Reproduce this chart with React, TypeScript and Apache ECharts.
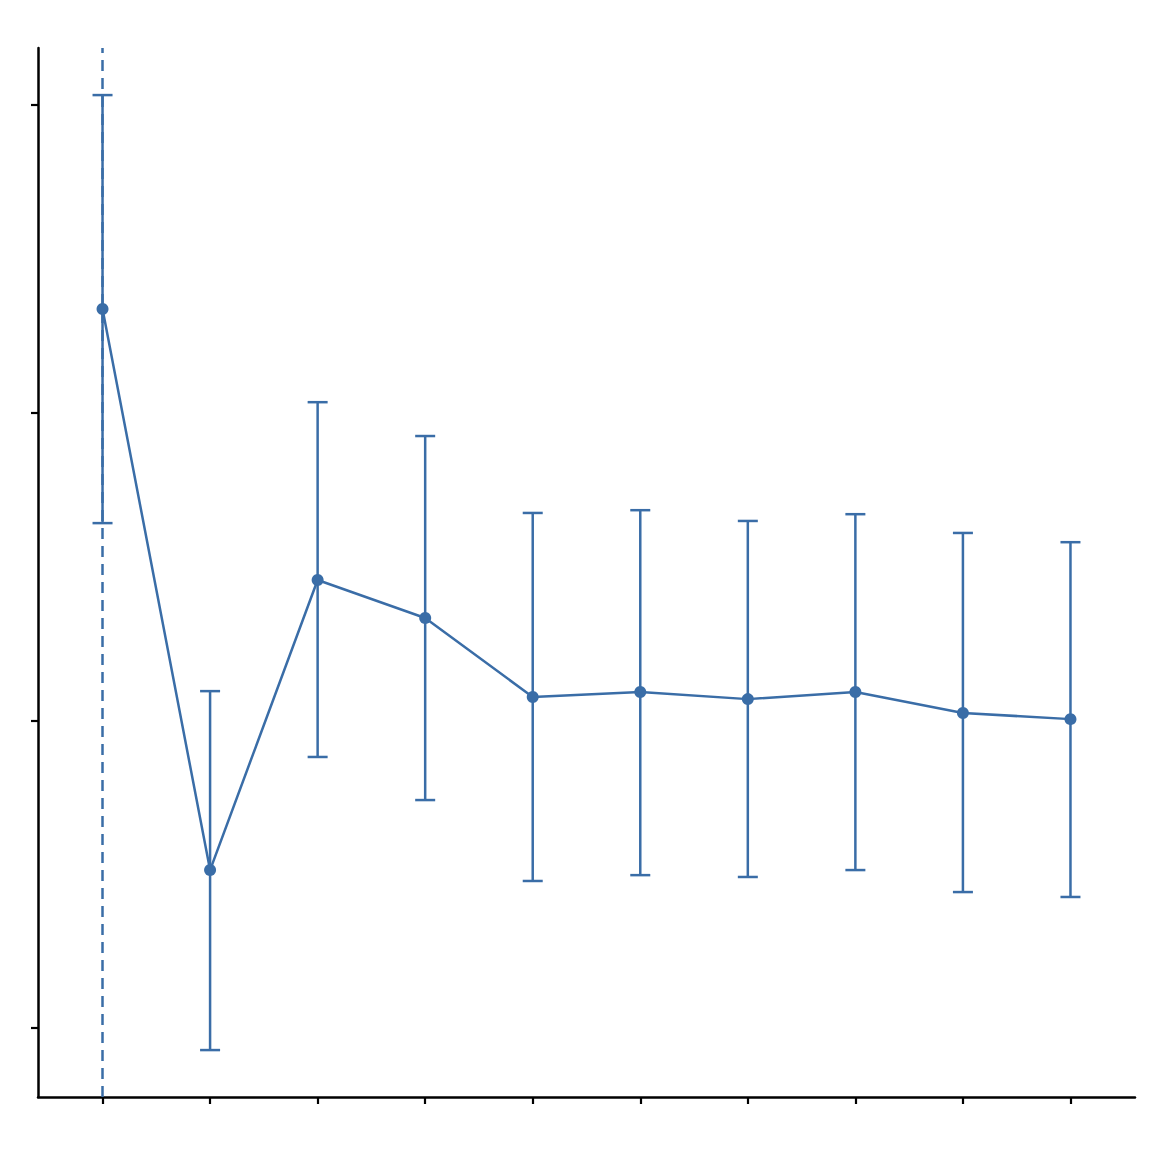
import React, { useEffect, useRef } from "react";
import * as echarts from "echarts";

const xValues = [0, 1, 2, 3, 4, 5, 6, 7, 8, 9];
const means = [2.337, 0.5135, 1.456, 1.3325, 1.076, 1.092, 1.069, 1.092, 1.024, 1.004];
const upper = [3.032, 1.095, 2.034, 1.924, 1.674, 1.683, 1.648, 1.67, 1.609, 1.579];
const lower = [1.641, -0.0715, 0.881, 0.741, 0.478, 0.497, 0.491, 0.5135, 0.442, 0.426];
const yTicks = [0, 1, 2, 3];
const refLineX = 0;

const BLUE = "#3a6da7";

export default function App() {
  const ref = useRef<HTMLDivElement>(null);
  useEffect(() => {
    document.body.style.margin = "0";
    const chart = echarts.init(ref.current!, null, { renderer: "svg" });
    const errData = xValues.map((x, i) => [x, lower[i], upper[i]]);
    chart.setOption({
      animation: false,
      backgroundColor: "#ffffff",
      grid: { left: 38, right: 17, top: 48, bottom: 55 },
      xAxis: {
        type: "value",
        min: -0.6,
        max: 9.6,
        splitLine: { show: false },
        axisLine: { show: true, onZero: false, lineStyle: { color: "#000", width: 2.5 } },
        axisTick: { show: true, customValues: xValues, length: 7, lineStyle: { color: "#000", width: 2.2 } },
        axisLabel: { show: false, customValues: xValues },
      },
      yAxis: {
        type: "value",
        min: -0.224,
        max: 3.185,
        splitLine: { show: false },
        axisLine: { show: true, onZero: false, lineStyle: { color: "#000", width: 2.5 } },
        axisTick: { show: true, customValues: yTicks, length: 7, lineStyle: { color: "#000", width: 2.2 } },
        axisLabel: { show: false, customValues: yTicks },
      },
      series: [
        {
          type: "custom",
          data: errData,
          z: 2,
          renderItem: (params: any, api: any) => {
            const x = api.value(0);
            const lo = api.coord([x, api.value(1)]);
            const hi = api.coord([x, api.value(2)]);
            const hw = 10;
            const style = { stroke: BLUE, lineWidth: 2.5 };
            return {
              type: "group",
              children: [
                { type: "line", shape: { x1: lo[0], y1: lo[1], x2: hi[0], y2: hi[1] }, style },
                { type: "line", shape: { x1: lo[0] - hw, y1: lo[1], x2: lo[0] + hw, y2: lo[1] }, style },
                { type: "line", shape: { x1: hi[0] - hw, y1: hi[1], x2: hi[0] + hw, y2: hi[1] }, style },
              ],
            };
          },
        },
        {
          type: "line",
          z: 3,
          data: xValues.map((x, i) => [x, means[i]]),
          symbol: "circle",
          symbolSize: 12,
          itemStyle: { color: BLUE },
          lineStyle: { color: BLUE, width: 2.5 },
          markLine: {
            silent: true,
            symbol: "none",
            label: { show: false },
            lineStyle: { color: BLUE, width: 2.5, type: [11, 7] },
            data: [{ xAxis: refLineX }],
          },
        },
      ],
    });
    return () => chart.dispose();
  }, []);
  return <div ref={ref} style={{ width: 1152, height: 1152 }} />;
}
